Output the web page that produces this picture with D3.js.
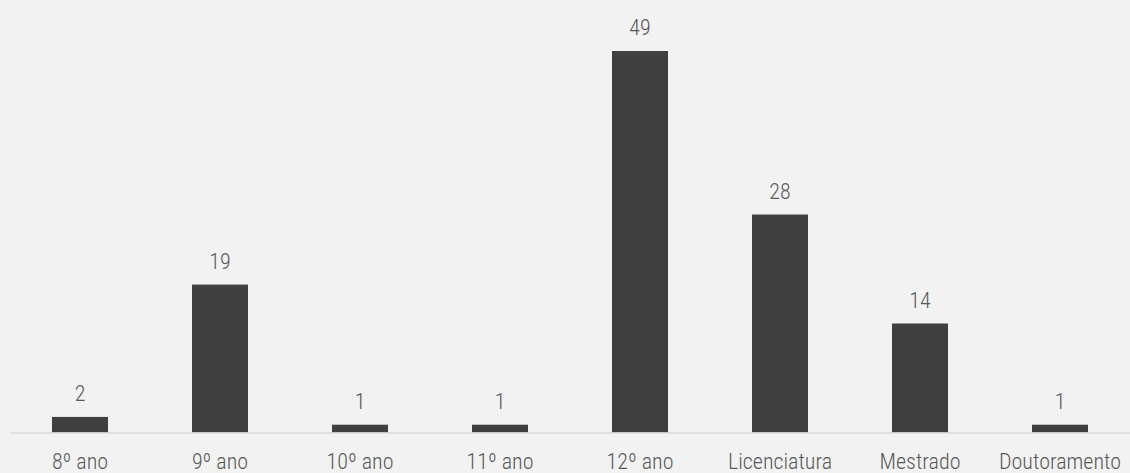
<!DOCTYPE html>
<html><head><meta charset="utf-8">
<script src="https://cdn.jsdelivr.net/npm/d3@7"></script>
<style>
html,body{margin:0;padding:0;background:#f2f2f2;}
svg{display:block;}
</style></head>
<body>
<svg id="chart" width="1130" height="473"></svg>
<script>
const categories = ["8º ano","9º ano","10º ano","11º ano","12º ano","Licenciatura","Mestrado","Doutoramento"];
const values = [2,19,1,1,49,28,14,1];

const W = 1130, H = 473;
const baseY = 432.5, topY = 51;
const FONT = "'Roboto Condensed','Liberation Sans Narrow',sans-serif";
const svg = d3.select("#chart");
svg.append("rect").attr("width",W).attr("height",H).attr("fill","#f2f2f2");

const x = d3.scaleBand().domain(categories).range([10,1130]).paddingInner(0.6).paddingOuter(0.3);
const y = d3.scaleLinear().domain([0,49]).range([baseY, topY]);

svg.selectAll("rect.bar").data(values).join("rect")
  .attr("class","bar")
  .attr("x",(d,i)=>x(categories[i]))
  .attr("width",x.bandwidth())
  .attr("y",d=>y(d))
  .attr("height",d=>baseY-y(d))
  .attr("fill","#404040");

svg.selectAll("text.val").data(values).join("text")
  .attr("class","val")
  .attr("x",(d,i)=>x(categories[i])+x.bandwidth()/2)
  .attr("y",d=>y(d)-16)
  .attr("text-anchor","middle")
  .style("font-family",FONT).style("font-weight",300).style("font-size","22px")
  .style("fill","#595959")
  .text(d=>d);

const axis = d3.axisBottom(x).tickSize(0).tickPadding(0);
const g = svg.append("g").attr("transform",`translate(0,${baseY})`).call(axis);
g.select(".domain").attr("stroke","#d9d9d9").attr("stroke-width",1.5);
g.selectAll(".tick text").attr("dy",null).attr("y",36)
  .style("font-family",FONT).style("font-weight",300).style("font-size","22px")
  .style("fill","#595959");
</script>
</body></html>
